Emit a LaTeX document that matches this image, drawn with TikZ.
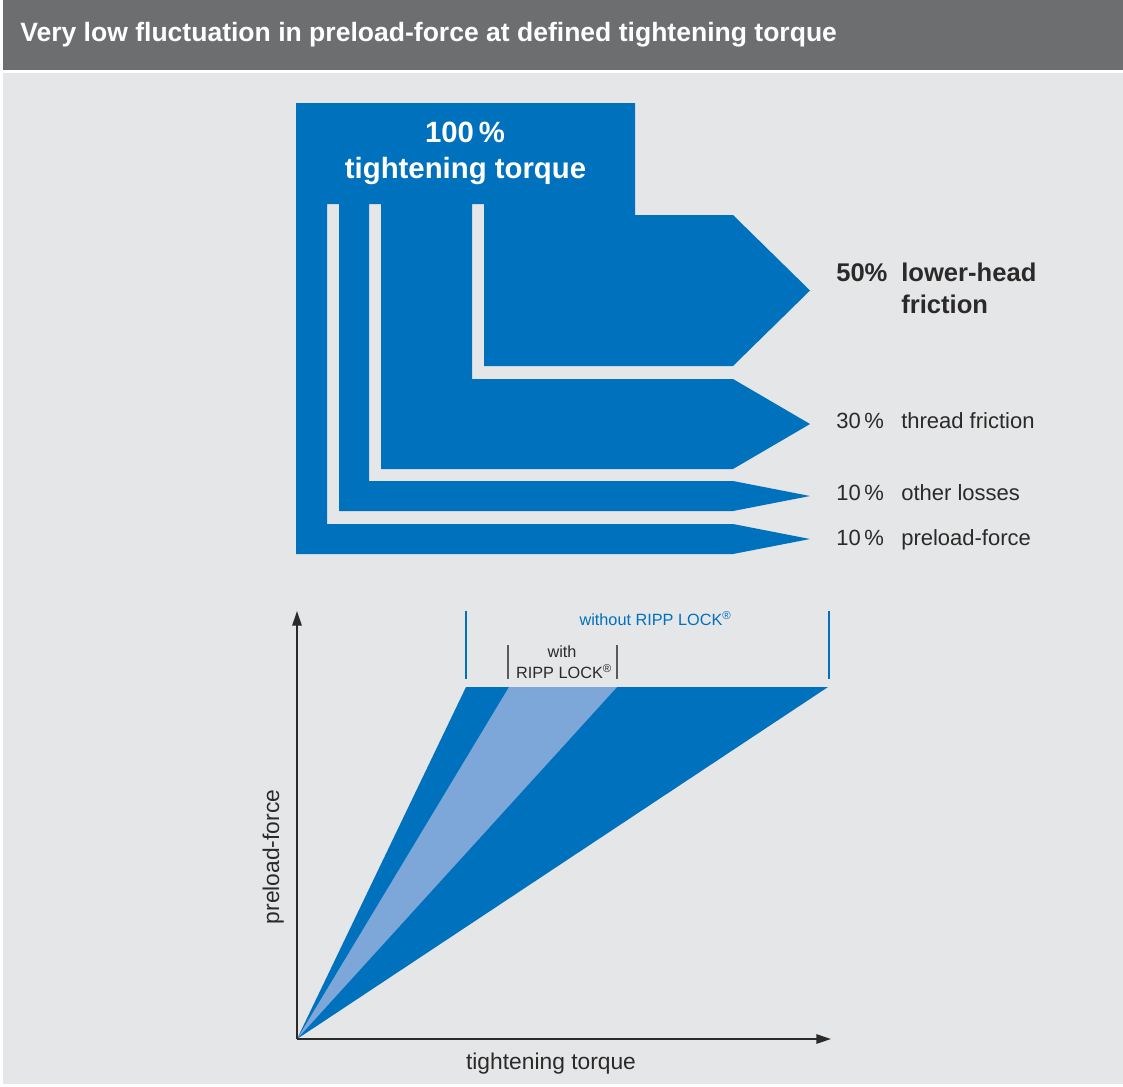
\documentclass[tikz,border=0pt]{standalone}
\usepackage{fontspec}
\setmainfont{Liberation Sans}
\usetikzlibrary{arrows.meta}
\definecolor{hdgray}{HTML}{6D6E70}
\definecolor{bgc}{HTML}{E5E6E8}
\definecolor{bluec}{HTML}{0071BC}
\definecolor{lightb}{HTML}{7DA7D9}
\definecolor{txt}{HTML}{2B2A29}
\definecolor{bracketgray}{HTML}{5A5A5A}
\begin{document}
\begin{tikzpicture}[x=0.75pt,y=-0.75pt,
  lbl/.style={inner sep=0pt, text=txt, anchor=base west, font=\fontsize{16.5}{19}\selectfont},
  boldlbl/.style={inner sep=0pt, text=txt, anchor=base west, font=\bfseries\fontsize{19.2}{22}\selectfont},
  toplbl/.style={inner sep=0pt, text=white, anchor=base, font=\bfseries\fontsize{22}{26}\selectfont},
  smalllbl/.style={inner sep=0pt, anchor=base, font=\fontsize{12.2}{14}\selectfont},
  axislbl/.style={inner sep=0pt, text=txt, anchor=base, font=\fontsize{17.1}{20}\selectfont},
  axisline/.style={draw=txt, line width=1.4pt, -{Triangle[length=11pt,width=7pt]}},
  bluebracket/.style={draw=bluec, line width=1.1pt},
  graybracket/.style={draw=bracketgray, line width=1.1pt}]
\useasboundingbox (0,0) rectangle (1123,1086);
\fill[white] (0,0) rectangle (1123,1086);
\fill[hdgray] (3,0) rectangle (1123,69.5);
\fill[bgc] (3,73) rectangle (1123,1084);
\node[inner sep=0pt, anchor=base west, text=white, font=\bfseries\fontsize{19.9}{24}\selectfont] (title) at (20,41) {Very low fluctuation in preload-force at defined tightening torque};

% torque distribution bands
\fill[bluec]
  (296,103) -- (635,103) -- (635,204) -- (296,204) -- cycle
  (296,203) -- (327,203) -- (327,524) -- (733,524) -- (810,539) -- (733,554) -- (296,554) -- cycle
  (339,203) -- (369,203) -- (369,481) -- (733,481) -- (810,496) -- (733,511) -- (339,511) -- cycle
  (381,203) -- (472,203) -- (472,379) -- (733,379) -- (810,424) -- (733,469) -- (381,469) -- cycle
  (484,203) -- (635,203) -- (635,215) -- (733,215) -- (810,290.5) -- (733,366) -- (484,366) -- cycle;

\node[toplbl] (t100) at (465,142) {100\,\%};
\node[toplbl] (ttorque) at (465.5,178) {tightening torque};

\node[boldlbl] (p50) at (836,281) {50\%};
\node[boldlbl] (l50a) at (901,281) {lower-head};
\node[boldlbl] (l50b) at (901,313) {friction};
\node[lbl] (p30) at (836,428) {30\,\%};
\node[lbl] (l30) at (901,428) {thread friction};
\node[lbl] (p10a) at (836,500) {10\,\%};
\node[lbl] (l10a) at (901,500) {other losses};
\node[lbl] (p10b) at (836,545) {10\,\%};
\node[lbl] (l10b) at (901,545) {preload-force};

% chart
\coordinate (O) at (297,1039);
\coordinate (Ytip) at (297,611);
\coordinate (Xtip) at (831,1039);
\coordinate (wo1) at (466,687);
\coordinate (wo2) at (828,687);
\coordinate (w1) at (509,687);
\coordinate (w2) at (617,687);
\fill[bluec] (O) -- (wo1) -- (wo2) -- cycle;
\fill[lightb] (O) -- (w1) -- (w2) -- cycle;
\draw[axisline] (O) -- (Ytip);
\draw[axisline] (O) -- (Xtip);

\draw[bluebracket] (466,611) -- (466,679);
\draw[bluebracket] (829,611) -- (829,679);
\draw[graybracket] (508,645) -- (508,679);
\draw[graybracket] (617,645) -- (617,679);

\node[smalllbl, text=bluec] (without) at (655.5,625) {without RIPP LOCK\textsuperscript{®}};
\node[smalllbl, text=txt] (with1) at (562,657) {with};
\node[smalllbl, text=txt] (with2) at (564,678) {RIPP LOCK\textsuperscript{®}};

\node[axislbl] (xl) at (551,1069) {tightening torque};
\node[axislbl, rotate=90] (yl) at (279,857) {preload-force};
\end{tikzpicture}
\end{document}
